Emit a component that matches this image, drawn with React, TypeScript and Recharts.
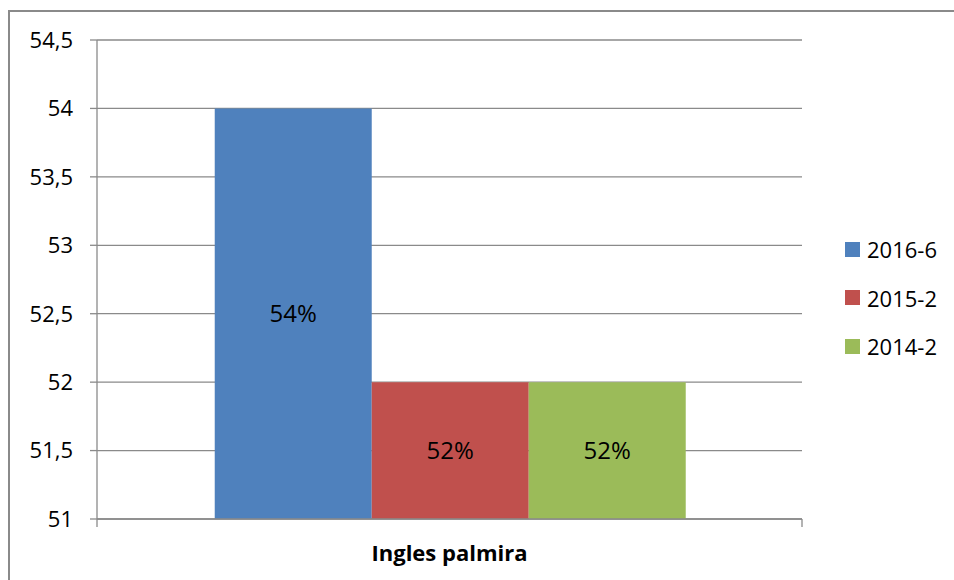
import React from 'react'
import { BarChart, Bar, XAxis, YAxis, CartesianGrid, Legend, LabelList } from 'recharts'

const categories = ['Ingles palmira']
const seriesNames = ['2016-6', '2015-2', '2014-2']
const seriesValues = [[54], [52], [52]]
const seriesColors = ['#4F81BD', '#C0504D', '#9BBB59']
const yTicks = [51, 51.5, 52, 52.5, 53, 53.5, 54, 54.5]

const FONT = '"Open Sans", "Noto Sans", sans-serif'
const GRID = '#8a8a8a'

const data = categories.map((name, ci) => {
  const row: Record<string, string | number> = { name }
  seriesNames.forEach((s, si) => {
    row[s] = seriesValues[si][ci]
  })
  return row
})

// category label, plus the small marks at the band edges (one category fills the axis)
function CategoryTick(props: any) {
  const { x, y, payload, width } = props
  const half = typeof width === 'number' ? width / 2 : 0
  return (
    <g>
      {half > 0 && (
        <>
          <line x1={x - half} y1={y} x2={x - half} y2={y + 8} stroke={GRID} strokeWidth={1.3} />
          <line x1={x + half} y1={y} x2={x + half} y2={y + 8} stroke={GRID} strokeWidth={1.3} />
        </>
      )}
      <text x={x} y={y + 34} dy="0.35em" textAnchor="middle" fontFamily={FONT}
        fontSize={22} fontWeight="bold" fill="#000">
        {payload.value}
      </text>
    </g>
  )
}

function LegendBox() {
  return (
    <div style={{ fontFamily: FONT, fontSize: 22, color: '#000' }}>
      {seriesNames.map((s, i) => (
        <div key={s} style={{ height: 48.5, display: 'flex', alignItems: 'center' }}>
          <span style={{ width: 15, height: 15, background: seriesColors[i], marginRight: 7, display: 'inline-block' }} />
          <span>{s}</span>
        </div>
      ))}
    </div>
  )
}

export default function App() {
  return (
    <div style={{ position: 'absolute', left: 0, top: 0, width: 954, height: 580, background: '#fff', overflow: 'hidden' }}>
      <div style={{ position: 'absolute', left: 8, top: 10, width: 1000, height: 700, borderLeft: `2px solid ${GRID}`, borderTop: `2px solid ${GRID}` }} />
      <BarChart width={954} height={580} data={data} margin={{ top: 40, right: 152, left: 0, bottom: 0 }}
        barCategoryGap="16.7%" barGap={0}>
        <CartesianGrid vertical={false} stroke={GRID} strokeWidth={1.3} />
        <XAxis dataKey="name" interval={0} axisLine={{ stroke: GRID, strokeWidth: 1.3 }} tickLine={false}
          tickSize={0} tickMargin={0} height={61} tick={<CategoryTick />} />
        <YAxis domain={[51, 54.5]} ticks={yTicks} interval={0} allowDataOverflow width={97}
          axisLine={{ stroke: GRID, strokeWidth: 1.3 }} tickLine={{ stroke: GRID, strokeWidth: 1.3 }}
          tickSize={7} tickMargin={17}
          tick={{ fill: '#000', fontSize: 22, fontFamily: FONT }}
          tickFormatter={(v: number) => String(v).replace('.', ',')} />
        <Legend layout="vertical" align="center" verticalAlign="middle" content={<LegendBox />}
          wrapperStyle={{ left: 845, top: 225, width: 110, height: 150 }} />
        {seriesNames.map((s, i) => (
          <Bar key={s} dataKey={s} fill={seriesColors[i]} isAnimationActive={false}>
            <LabelList dataKey={s} position="center" fill="#000" fontSize={24} fontFamily={FONT}
              formatter={(v: any) => `${v}%`} />
          </Bar>
        ))}
      </BarChart>
    </div>
  )
}
